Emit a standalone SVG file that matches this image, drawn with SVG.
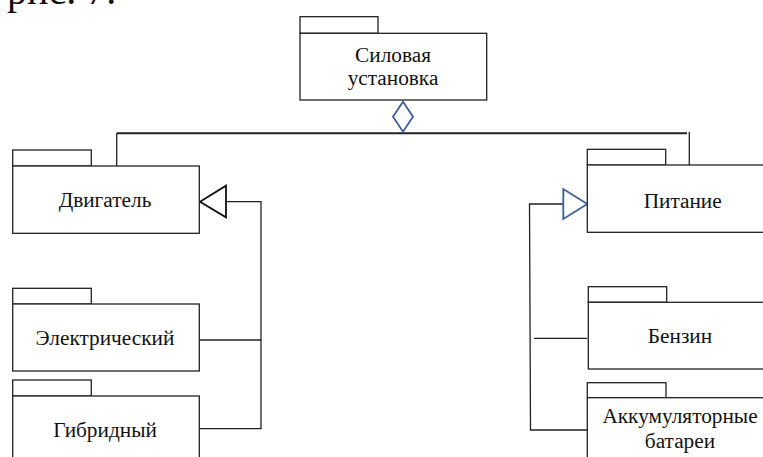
<svg xmlns="http://www.w3.org/2000/svg" width="763" height="457" viewBox="0 0 763 457">
<style>
.box{fill:#fff;stroke:#222;stroke-width:1.3}
.ln{fill:none;stroke:#222;stroke-width:1.3}
text{font-family:'Liberation Serif','DejaVu Serif',serif;fill:#111}
.t{font-size:21.3px;text-anchor:middle}
</style>
<rect width="763" height="457" fill="#fff"/>
<text x="7" y="4" font-size="40">рис. 7.</text>
<g id="connectors">
<line class="ln" x1="116.7" y1="133.3" x2="687" y2="133.3" style="stroke-width:2"/>
<line class="ln" x1="116.7" y1="133.3" x2="116.7" y2="166"/>
<line class="ln" x1="689.3" y1="131.7" x2="689.3" y2="165"/>
<polygon points="403,101.7 413,116.7 403,131.7 393,116.7" fill="#fff" stroke="#3c5f9e" stroke-width="1.8"/>
<polyline class="ln" points="226,201.7 261,201.7 261,428.7 199.3,428.7"/>
<line class="ln" x1="199.3" y1="340" x2="261" y2="340"/>
<polygon points="200,201.7 226,185.7 226,217.3" fill="#fff" stroke="#111" stroke-width="1.8"/>
<polyline class="ln" points="563.3,204 529.5,204 530.5,430 587.3,430"/>
<line class="ln" x1="534" y1="338.3" x2="587.3" y2="338.3"/>
<polygon points="587.3,204 563.3,189 563.3,219" fill="#fff" stroke="#3c5f9e" stroke-width="1.8"/>
</g>
<g id="silovaya">
<rect class="box" x="300" y="16.7" width="78" height="16.6"/>
<rect class="box" x="300" y="33.3" width="186.7" height="66.7"/>
<text class="t" x="393" y="62">Силовая</text>
<text class="t" x="393" y="85">установка</text>
</g>
<g id="dvigatel">
<rect class="box" x="12.7" y="150" width="78.6" height="16"/>
<rect class="box" x="12.7" y="166" width="186.6" height="67.3"/>
<text class="t" x="105" y="206.7">Двигатель</text>
</g>
<g id="elektricheskiy">
<rect class="box" x="12.7" y="288.3" width="78.6" height="15.7"/>
<rect class="box" x="12.7" y="304" width="186.6" height="67"/>
<text class="t" x="105" y="345">Электрический</text>
</g>
<g id="gibridnyy">
<rect class="box" x="12.7" y="380" width="78.6" height="16"/>
<rect class="box" x="12.7" y="396" width="186.6" height="80"/>
<text class="t" x="105" y="436.7">Гибридный</text>
</g>
<g id="pitanie">
<rect class="box" x="587.3" y="149.3" width="78.4" height="15.7"/>
<rect class="box" x="587.3" y="165" width="190" height="67.3"/>
<text class="t" x="682.7" y="208.3">Питание</text>
</g>
<g id="benzin">
<rect class="box" x="588.3" y="286.7" width="78.4" height="15.6"/>
<rect class="box" x="588.3" y="302.3" width="190" height="66.7"/>
<text class="t" x="680" y="343.3">Бензин</text>
</g>
<g id="akkumulyatornye">
<rect class="box" x="587.3" y="382.7" width="78.7" height="15"/>
<rect class="box" x="587.3" y="397.7" width="190" height="80"/>
<text class="t" x="680" y="423.3">Аккумуляторные</text>
<text class="t" x="680" y="448.3">батареи</text>
</g>
</svg>
